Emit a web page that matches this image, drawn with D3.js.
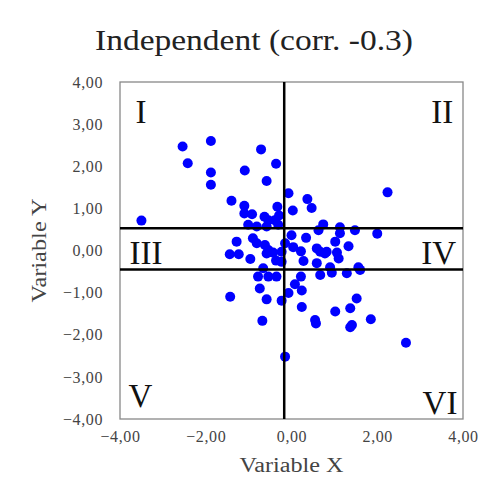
<!DOCTYPE html>
<html>
<head>
<meta charset="utf-8">
<script src="https://cdn.jsdelivr.net/npm/d3@7"></script>
<style>
  body { margin: 0; background: #fff; }
  svg text { font-family: "Liberation Serif", "DejaVu Serif", serif; }
</style>
</head>
<body>
<div id="chart"></div>
<script>
// データ
const xValues = [
  -2.54, -1.88, -2.42, -1.88, -1.88, -0.71, -0.36, -1.09, -0.58, -3.50, -1.40, -1.10, -1.10, -0.92, -0.63, -0.54, -0.33, -0.39, -0.29, -1.01, -0.81, -0.58, -0.31,
  2.24, -0.07, 0.37, 0.47, 0.03, 0.74, 1.13, 1.48, 2.00, 0.63, 1.13, 0.00, 0.34, 1.02, 1.33,
  -1.28, -1.44, -1.23, -0.96, -0.90, -0.81, -0.62, -0.54, -0.43, -0.36, 0.04, 0.22, 0.28, -0.15, 0.59, 0.67, 0.82, 1.10, 0.59, 0.90, 1.56, -0.23, -0.23, -0.58, -0.66, 0.78, 1.06,
  -0.78, -0.54, -0.35, -0.74, -0.58, -1.43, -0.23, -0.07, -0.68, 0.08, 0.22, 0.24, 0.67, 0.94, 1.29, 1.60, 0.24, 1.02, 1.37, 1.52, 1.85, 0.55, 0.57, 1.41, 1.37, 2.67, -0.15
];
const yValues = [
  2.47, 2.60, 2.07, 1.85, 1.56, 2.40, 2.06, 1.90, 1.65, 0.71, 1.18, 1.06, 0.88, 0.86, 0.80, 0.72, 1.04, 0.72, 0.83, 0.61, 0.57, 0.57, 0.61,
  1.38, 1.36, 1.22, 1.01, 0.95, 0.62, 0.55, 0.48, 0.40, 0.48, 0.41, 0.36, 0.30, 0.21, 0.10,
  0.21, -0.09, -0.09, -0.20, 0.29, 0.17, 0.13, 0.01, -0.05, -0.24, 0.08, -0.02, -0.25, 0.17, 0.05, -0.03, -0.03, -0.19, -0.30, -0.40, -0.40, -0.03, -0.27, -0.07, -0.42, -0.07, -0.05,
  -0.62, -0.62, -0.62, -0.90, -1.16, -1.10, -1.19, -1.01, -1.67, -0.80, -0.62, -1.34, -0.58, -0.53, -0.54, -0.46, -0.95, -1.45, -1.37, -1.14, -1.63, -1.65, -1.73, -1.77, -1.82, -2.19, -2.52
];
const tickValues = [-4, -3, -2, -1, 0, 1, 2, 3, 4];
const xTickValues = [-4, -2, 0, 2, 4];
const vLine = [-0.17];          // 縦の基準線 (X)
const hLines = [0.53, -0.45];   // 横の基準線 (Y)
const quadrantLabels = ["I", "II", "III", "IV", "V", "VI"];

const width = 498;
const height = 502;
const margin = { top: 82, right: 35, bottom: 83, left: 120 };

const svg = d3.select("#chart")
  .append("svg")
  .attr("width", width)
  .attr("height", height);

const xScale = d3.scaleLinear()
  .domain([-4, 4])
  .range([margin.left, width - margin.right]);

const yScale = d3.scaleLinear()
  .domain([-4, 4])
  .range([height - margin.bottom, margin.top]);

const fmt = d => d3.format(".2f")(d).replace(".", ",");

// タイトル
svg.append("text")
  .attr("x", 254)
  .attr("y", 50)
  .attr("text-anchor", "middle")
  .attr("font-size", 29)
  .attr("fill", "#222")
  .attr("textLength", 318)
  .attr("lengthAdjust", "spacingAndGlyphs")
  .text("Independent (corr. -0.3)");

// 軸
const xAxis = svg.append("g")
  .attr("transform", `translate(0,${height - margin.bottom})`)
  .call(d3.axisBottom(xScale).tickValues(xTickValues).tickFormat(fmt).tickSize(0).tickPadding(12));

const yAxis = svg.append("g")
  .attr("transform", `translate(${margin.left},0)`)
  .call(d3.axisLeft(yScale).tickValues(tickValues).tickFormat(fmt).tickSize(0).tickPadding(17));

[xAxis, yAxis].forEach(g => {
  g.select(".domain").remove();
  g.selectAll("text")
    .attr("font-family", "Liberation Serif, DejaVu Serif, serif")
    .attr("font-size", 16)
    .attr("letter-spacing", 0.6)
    .attr("fill", "#444");
});

// 枠
svg.append("rect")
  .attr("x", xScale(-4))
  .attr("y", yScale(4))
  .attr("width", xScale(4) - xScale(-4))
  .attr("height", yScale(-4) - yScale(4))
  .attr("fill", "none")
  .attr("stroke", "#888")
  .attr("stroke-width", 1.3);

// 軸ラベル
svg.append("text")
  .attr("x", xScale(0))
  .attr("y", 472)
  .attr("text-anchor", "middle")
  .attr("font-size", 20)
  .attr("fill", "#444")
  .attr("textLength", 104)
  .attr("lengthAdjust", "spacingAndGlyphs")
  .text("Variable X");

svg.append("text")
  .attr("transform", `translate(46,${yScale(0)}) rotate(-90)`)
  .attr("text-anchor", "middle")
  .attr("font-size", 20)
  .attr("fill", "#444")
  .attr("textLength", 104)
  .attr("lengthAdjust", "spacingAndGlyphs")
  .text("Variable Y");

// 点
const points = xValues.map((x, i) => ({ x: x, y: yValues[i] }));

svg.selectAll("circle").data(points)
  .enter().append("circle")
  .attr("cx", d => xScale(d.x))
  .attr("cy", d => yScale(d.y))
  .attr("r", 5)
  .attr("fill", "#0000ff");

// 基準線
svg.selectAll("line.v").data(vLine)
  .enter().append("line")
  .attr("class", "v")
  .attr("x1", d => xScale(d))
  .attr("x2", d => xScale(d))
  .attr("y1", yScale(4))
  .attr("y2", yScale(-4))
  .attr("stroke", "#000")
  .attr("stroke-width", 2.5);

svg.selectAll("line.h").data(hLines)
  .enter().append("line")
  .attr("class", "h")
  .attr("x1", xScale(-4))
  .attr("x2", xScale(4))
  .attr("y1", d => yScale(d))
  .attr("y2", d => yScale(d))
  .attr("stroke", "#000")
  .attr("stroke-width", 2.5);

// 象限ラベル
const labelPos = [
  { x: -3.64, y: 3.2, anchor: "start" },
  { x: 3.77, y: 3.2, anchor: "end" },
  { x: -3.78, y: -0.15, anchor: "start" },
  { x: 3.84, y: -0.15, anchor: "end" },
  { x: -3.8, y: -3.55, anchor: "start" },
  { x: 3.87, y: -3.72, anchor: "end" }
];

svg.selectAll("text.q").data(quadrantLabels)
  .enter().append("text")
  .attr("class", "q")
  .attr("x", (_, i) => xScale(labelPos[i].x))
  .attr("y", (_, i) => yScale(labelPos[i].y) + 7)
  .attr("text-anchor", (_, i) => labelPos[i].anchor)
  .attr("font-size", 33)
  .attr("fill", "#111")
  .text(d => d);
</script>
</body>
</html>
